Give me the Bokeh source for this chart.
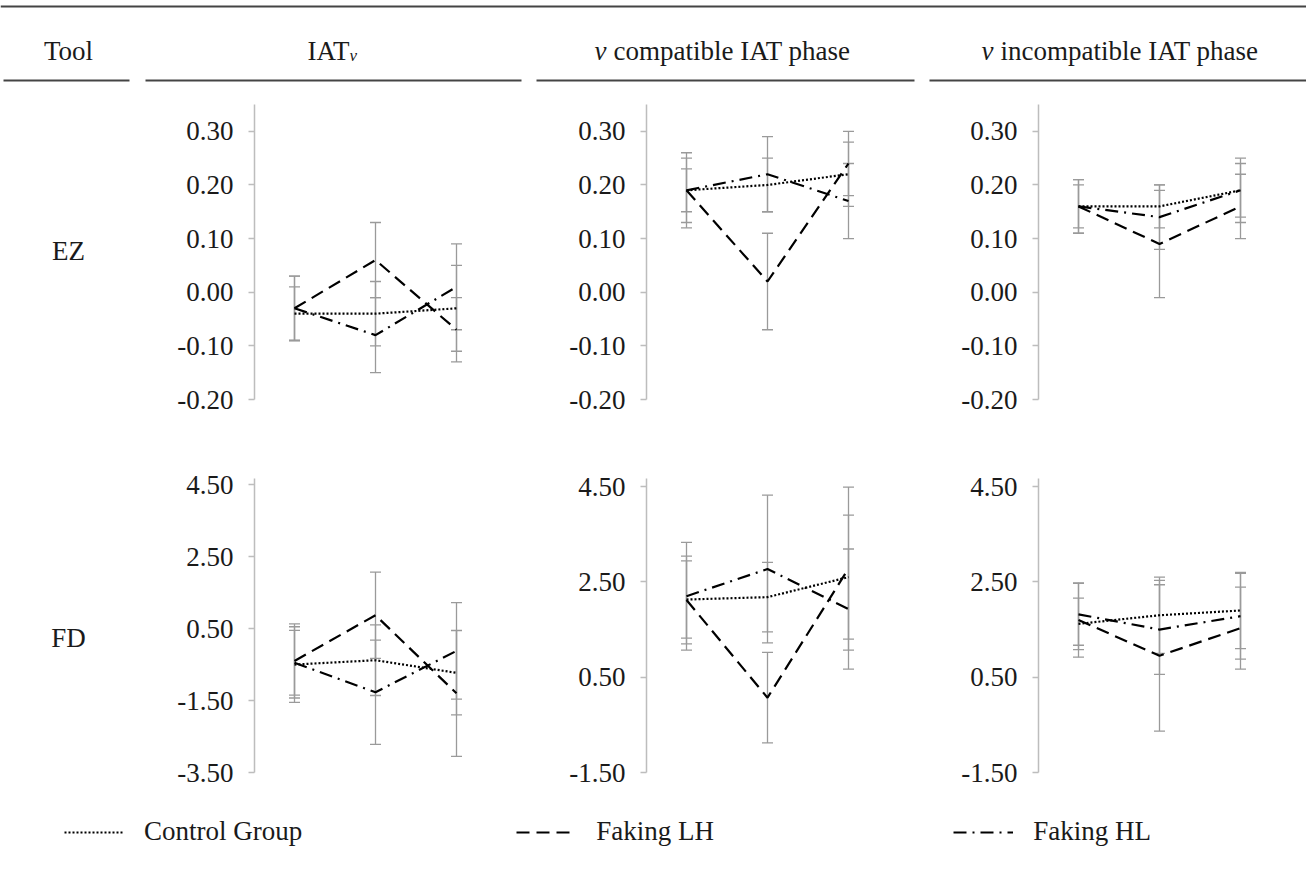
from bokeh.plotting import figure
from bokeh.models import (Range1d, FixedTicker, NumeralTickFormatter, ColumnDataSource,
                          Whisker, TeeHead, Legend, LegendItem)
from bokeh.layouts import column, row
from bokeh.embed import file_html
from bokeh.resources import INLINE
from bokeh.core.properties import value

# ---------------- data ----------------
phases = [1, 2, 3]
tools = ["EZ", "FD"]
series_names = ["Control Group", "Faking LH", "Faking HL"]

# EZ - IATv
ez_iat_control = [-0.04, -0.04, -0.03]
ez_iat_control_err = [0.05, 0.06, 0.08]
ez_iat_lh = [-0.03, 0.06, -0.07]
ez_iat_lh_err = [0.06, 0.07, 0.06]
ez_iat_hl = [-0.03, -0.08, 0.01]
ez_iat_hl_err = [0.06, 0.07, 0.08]

# EZ - v compatible
ez_comp_control = [0.19, 0.20, 0.22]
ez_comp_control_err = [0.07, 0.05, 0.06]
ez_comp_lh = [0.19, 0.02, 0.24]
ez_comp_lh_err = [0.06, 0.09, 0.06]
ez_comp_hl = [0.19, 0.22, 0.17]
ez_comp_hl_err = [0.04, 0.07, 0.07]

# EZ - v incompatible
ez_inc_control = [0.16, 0.16, 0.19]
ez_inc_control_err = [0.05, 0.04, 0.06]
ez_inc_lh = [0.16, 0.09, 0.16]
ez_inc_lh_err = [0.04, 0.10, 0.06]
ez_inc_hl = [0.16, 0.14, 0.19]
ez_inc_hl_err = [0.05, 0.06, 0.05]

# FD - IATv
fd_iat_control = [-0.50, -0.38, -0.73]
fd_iat_control_err = [1.05, 0.98, 1.17]
fd_iat_lh = [-0.40, 0.87, -1.30]
fd_iat_lh_err = [1.03, 1.20, 1.75]
fd_iat_hl = [-0.45, -1.27, -0.12]
fd_iat_hl_err = [0.90, 1.45, 1.34]

# FD - v compatible
fd_comp_control = [2.13, 2.18, 2.60]
fd_comp_control_err = [0.81, 0.73, 1.30]
fd_comp_lh = [2.12, 0.07, 2.78]
fd_comp_lh_err = [0.92, 0.95, 1.71]
fd_comp_hl = [2.20, 2.77, 1.93]
fd_comp_hl_err = [1.13, 1.55, 1.26]

# FD - v incompatible
fd_inc_control = [1.62, 1.80, 1.90]
fd_inc_control_err = [0.54, 0.80, 0.80]
fd_inc_lh = [1.70, 0.95, 1.53]
fd_inc_lh_err = [0.78, 1.58, 0.86]
fd_inc_hl = [1.82, 1.50, 1.78]
fd_inc_hl_err = [0.65, 0.94, 0.90]

ez_ticks = [-0.20, -0.10, 0.00, 0.10, 0.20, 0.30]
fd_iat_ticks = [-3.5, -1.5, 0.5, 2.5, 4.5]
fd_phase_ticks = [-1.5, 0.5, 2.5, 4.5]

# ---------------- styling ----------------
FONT = "Liberation Serif"
TXT = "#1a1a1a"
AXIS_C = "#bdbdbd"
ERR_C = "#9a9a9a"
dashes = ["2 2", "13 7", "13 6 2 6"]

X0 = 1 - 40 / 81
X1 = X0 + 260 / 81


def panel(series, y_start, y_end, ticks, width, height, top, bottom, right):
    p = figure(width=width, height=height,
               x_range=Range1d(X0, X1), y_range=Range1d(y_start, y_end),
               x_axis_location=None, toolbar_location=None, output_backend="svg",
               min_border_left=117, min_border_right=right,
               min_border_top=top, min_border_bottom=bottom)
    p.outline_line_color = None
    p.grid.visible = False
    p.background_fill_color = "white"
    p.border_fill_color = "white"
    ax = p.yaxis[0]
    ax.ticker = FixedTicker(ticks=ticks)
    ax.formatter = NumeralTickFormatter(format="0.00")
    ax.axis_line_color = AXIS_C
    ax.axis_line_width = 1.5
    ax.major_tick_line_color = AXIS_C
    ax.major_tick_line_width = 1.5
    ax.major_tick_out = 6
    ax.major_tick_in = 0
    ax.minor_tick_line_color = None
    ax.major_label_standoff = 15
    ax.major_label_text_font = FONT
    ax.major_label_text_font_size = "27px"
    ax.major_label_text_color = TXT
    for means, errs in series:
        src = ColumnDataSource(dict(
            x=phases, y=means,
            upper=[m + e for m, e in zip(means, errs)],
            lower=[m - e for m, e in zip(means, errs)]))
        w = Whisker(source=src, base="x", upper="upper", lower="lower",
                    line_color=ERR_C, line_width=1.3, level="underlay",
                    upper_head=TeeHead(size=11, line_color=ERR_C, line_width=1.3),
                    lower_head=TeeHead(size=11, line_color=ERR_C, line_width=1.3))
        p.add_layout(w)
    for (means, errs), d in zip(series, dashes):
        p.line(phases, means, line_color="black", line_width=2.2, line_dash=d)
    return p


PW = [392, 392, 385]
PR = [15, 15, 8]

ez_series = [
    [(ez_iat_control, ez_iat_control_err), (ez_iat_lh, ez_iat_lh_err), (ez_iat_hl, ez_iat_hl_err)],
    [(ez_comp_control, ez_comp_control_err), (ez_comp_lh, ez_comp_lh_err), (ez_comp_hl, ez_comp_hl_err)],
    [(ez_inc_control, ez_inc_control_err), (ez_inc_lh, ez_inc_lh_err), (ez_inc_hl, ez_inc_hl_err)],
]
fd_series = [
    [(fd_iat_control, fd_iat_control_err), (fd_iat_lh, fd_iat_lh_err), (fd_iat_hl, fd_iat_hl_err)],
    [(fd_comp_control, fd_comp_control_err), (fd_comp_lh, fd_comp_lh_err), (fd_comp_hl, fd_comp_hl_err)],
    [(fd_inc_control, fd_inc_control_err), (fd_inc_lh, fd_inc_lh_err), (fd_inc_hl, fd_inc_hl_err)],
]

ez_panels = [panel(ez_series[i], -0.20, 0.35, ez_ticks, PW[i], 352, 17, 40, PR[i]) for i in range(3)]
fd_ranges = [(-3.5, 4.67, fd_iat_ticks), (-1.5, 4.67, fd_phase_ticks), (-1.5, 4.67, fd_phase_ticks)]
fd_panels = [panel(fd_series[i], fd_ranges[i][0], fd_ranges[i][1], fd_ranges[i][2], PW[i], 360, 39, 27, PR[i])
             for i in range(3)]


def blank(width, height, xr, yr):
    p = figure(width=width, height=height, x_range=Range1d(*xr), y_range=Range1d(*yr),
               x_axis_location=None, y_axis_location=None, toolbar_location=None,
               output_backend="svg", min_border=0)
    p.outline_line_color = None
    p.grid.visible = False
    return p


def txt(p, x, y, s, size="27px", style="normal", align="center"):
    p.text(x=[x], y=[y], text=[s], text_font=value(FONT), text_font_size=size,
           text_font_style=style, text_align=align, text_baseline="alphabetic",
           text_color=TXT)


# header (reference-picture coordinates)
header = blank(1306, 87, (1, 1307), (88, 1))
header.segment(x0=[1], y0=[7], x1=[1307], y1=[7], line_color="#444444", line_width=2)
header.segment(x0=[4, 146, 537, 930], y0=[81] * 4, x1=[130, 522, 915, 1307], y1=[81] * 4,
               line_color="#444444", line_width=2)
txt(header, 69, 51, "Tool")
txt(header, 308, 51, "IAT", align="left")
txt(header, 350, 56, "v", size="17px", style="italic", align="left")
txt(header, 595, 51, "v", style="italic", align="left")
txt(header, 614, 51, "compatible IAT phase", align="left")
txt(header, 982, 51, "v", style="italic", align="left")
txt(header, 1001, 51, "incompatible IAT phase", align="left")

lab1 = blank(137, 352, (1, 138), (440, 88))
txt(lab1, 69, 263, tools[0])
lab2 = blank(137, 360, (1, 138), (800, 440))
txt(lab2, 69, 635, tools[1])

# legend
leg_fig = blank(1306, 60, (0, 1), (0, 1))
rends = [leg_fig.line(x=[-10, -9], y=[-10, -10], line_color="black", line_width=2.2, line_dash=d)
         for d in dashes]
legend = Legend(items=[LegendItem(label=n, renderers=[r]) for n, r in zip(series_names, rends)],
                orientation="horizontal", location=(64, 12), spacing=214,
                glyph_width=60, glyph_height=30, label_height=30, label_width=143,
                label_standoff=20, padding=0, margin=0, border_line_color=None,
                background_fill_alpha=0, label_text_font=FONT, label_text_font_size="27px",
                label_text_color=TXT, label_text_baseline="middle")
leg_fig.add_layout(legend, "center")

layout = column(header,
                row(lab1, *ez_panels),
                row(lab2, *fd_panels),
                leg_fig)

open("out.html", "w").write(file_html(layout, INLINE))
